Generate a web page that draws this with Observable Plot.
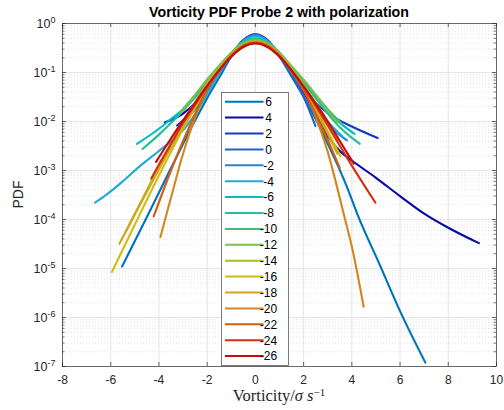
<!DOCTYPE html>
<html>
<head>
<meta charset="utf-8">
<script src="https://cdn.jsdelivr.net/npm/d3@7"></script>
<script src="https://cdn.jsdelivr.net/npm/@observablehq/plot@0.6"></script>
<style>
  html, body { margin: 0; padding: 0; background: #fff; }
  #chart { position: relative; width: 504px; height: 410px; }
  svg { display: block; }
</style>
</head>
<body>
<div id="chart"></div>
<script>
// ---------- DATA ([vorticity/sigma, PDF]) ----------
const pdf_p6 = [[-5.53,1.1e-5],[-4.5,1.12e-4],[-3.5,1.12e-3],[-2.5,1.05e-2],[-2.0,0.030],[-1.5,0.079],[-1.0,0.21],[-0.5,0.44],[0,0.575],[0.5,0.44],[1.0,0.21],[1.5,0.083],[2.0,0.032],[2.5,0.0112],[3.0,3.5e-3],[3.8,4.6e-4],[4.22,1.32e-4],[5.2,1.07e-5],[6.0,1.35e-6],[7.05,1.2e-7]];
const pdf_p4 = [[-3.76,9.5e-3],[-3.0,0.0145],[-2.5,0.024],[-2.0,0.048],[-1.5,0.105],[-1.0,0.23],[-0.5,0.46],[0,0.6],[0.5,0.46],[1.0,0.23],[1.5,0.1],[2.0,0.04],[2.5,0.014],[3.0,5.0e-3],[3.5,2.5e-3],[4.0,1.6e-3],[5.0,7.1e-4],[6.0,3.0e-4],[7.0,1.32e-4],[8.0,6.8e-5],[9.27,3.3e-5]];
const pdf_p2 = [[-3.25,8.3e-3],[-2.5,0.019],[-2.0,0.044],[-1.5,0.102],[-1.0,0.23],[-0.5,0.45],[0,0.59],[0.5,0.45],[1.0,0.23],[1.5,0.105],[2.0,0.047],[2.5,0.024],[3.25,0.0123],[4.0,7.9e-3],[5.07,4.6e-3]];
const pdf_0 = [[-3.0,0.01],[-2.5,0.0178],[-2.0,0.042],[-1.5,0.1],[-1.0,0.23],[-0.5,0.45],[0,0.6],[0.5,0.44],[1.0,0.22],[1.5,0.093],[2.0,0.032],[2.49,8.1e-3]];
const pdf_m2 = [[-3.3,6.3e-3],[-2.5,0.02],[-2.0,0.045],[-1.5,0.102],[-1.0,0.23],[-0.5,0.44],[0,0.575],[0.5,0.44],[1.0,0.224],[1.5,0.1],[2.0,0.044],[2.5,0.0186],[3.0,8.9e-3],[3.8,4.1e-3]];
const pdf_m4 = [[-6.65,2.2e-4],[-6.22,3.1e-4],[-5.5,6.0e-4],[-4.84,1.17e-3],[-4.0,2.5e-3],[-3.46,4.1e-3],[-3.0,6.6e-3],[-2.5,0.0141],[-2.0,0.036],[-1.5,0.095],[-1.0,0.23],[-0.5,0.44],[0,0.55],[0.5,0.44],[1.0,0.234],[1.5,0.107],[2.0,0.047],[2.5,0.021],[3.0,0.01],[3.6,5.0e-3]];
const pdf_m6 = [[-4.91,3.5e-3],[-4.0,7.1e-3],[-3.5,0.0112],[-3.0,0.0178],[-2.5,0.0316],[-2.0,0.063],[-1.5,0.126],[-1.0,0.25],[-0.5,0.42],[0,0.5],[0.5,0.42],[1.0,0.25],[1.5,0.126],[2.0,0.063],[2.5,0.0316],[3.0,0.0166],[3.5,9.5e-3],[4.11,5.6e-3]];
const pdf_m8 = [[-4.68,2.75e-3],[-4.0,5.4e-3],[-3.5,9.3e-3],[-3.0,0.0166],[-2.5,0.0316],[-2.0,0.066],[-1.5,0.132],[-1.0,0.25],[-0.5,0.41],[0,0.48],[0.5,0.41],[1.0,0.25],[1.5,0.126],[2.0,0.063],[2.5,0.030],[3.0,0.0145],[3.5,7.6e-3],[4.33,3.5e-3]];
const pdf_m10 = [[-3.0,0.0182],[-2.5,0.035],[-2.0,0.071],[-1.5,0.138],[-1.0,0.25],[-0.5,0.4],[0,0.47],[0.5,0.4],[1.0,0.25],[1.5,0.132],[2.0,0.068],[2.5,0.035],[3.0,0.0178],[3.6,8.9e-3]];
const pdf_m12 = [[-3.1,0.0151],[-2.5,0.035],[-2.0,0.072],[-1.5,0.138],[-1.0,0.25],[-0.5,0.39],[0,0.46],[0.5,0.39],[1.0,0.25],[1.5,0.135],[2.0,0.071],[2.5,0.035],[3.0,0.0166],[3.4,9.5e-3]];
const pdf_m14 = [[-5.39,5.5e-5],[-4.5,4.0e-4],[-4.0,1.2e-3],[-3.5,3.5e-3],[-3.0,0.01],[-2.5,0.025],[-2.0,0.06],[-1.5,0.126],[-1.0,0.24],[-0.5,0.37],[0,0.44],[0.5,0.37],[1.0,0.24],[1.5,0.12],[2.0,0.056],[2.5,0.024],[3.0,0.01],[3.4,4.5e-3]];
const pdf_m16 = [[-5.95,8.5e-6],[-5.0,7.9e-5],[-4.0,7.9e-4],[-3.5,2.4e-3],[-3.0,7.1e-3],[-2.5,0.019],[-2.0,0.05],[-1.5,0.112],[-1.0,0.224],[-0.5,0.355],[0,0.42],[0.5,0.355],[1.0,0.224],[1.5,0.11],[2.0,0.048],[2.5,0.019],[3.0,6.3e-3],[3.53,1.95e-3]];
const pdf_m18 = [[-5.64,3.2e-5],[-5.0,1.26e-4],[-4.0,1.05e-3],[-3.0,7.9e-3],[-2.5,0.02],[-2.0,0.05],[-1.5,0.11],[-1.0,0.22],[-0.5,0.35],[0,0.41],[0.5,0.35],[1.0,0.22],[1.5,0.107],[2.0,0.046],[2.5,0.0174],[3.0,5.6e-3],[3.4,2.2e-3]];
const pdf_m20 = [[-3.94,4.4e-5],[-3.5,2.8e-4],[-3.0,2.2e-3],[-2.5,0.012],[-2.0,0.045],[-1.5,0.112],[-1.0,0.23],[-0.5,0.36],[0,0.42],[0.5,0.36],[1.0,0.23],[1.5,0.11],[2.0,0.047],[2.5,0.0126],[3.0,2.4e-3],[3.66,1.32e-4],[4.0,2.8e-5],[4.49,1.66e-6]];
const pdf_m22 = [[-4.22,1.15e-4],[-3.5,1.0e-3],[-3.0,4.0e-3],[-2.5,0.0141],[-2.0,0.045],[-1.5,0.107],[-1.0,0.22],[-0.5,0.35],[0,0.41],[0.5,0.35],[1.0,0.22],[1.5,0.105],[2.0,0.043],[2.5,0.0141],[3.0,4.2e-3],[3.5,1.12e-3]];
const pdf_m24 = [[-4.32,6.8e-4],[-4.0,1.32e-3],[-3.5,3.5e-3],[-3.0,9.3e-3],[-2.5,0.0224],[-2.0,0.052],[-1.5,0.112],[-1.0,0.214],[-0.5,0.34],[0,0.4],[0.5,0.34],[1.0,0.214],[1.5,0.11],[2.0,0.05],[2.5,0.021],[3.0,8.3e-3],[3.5,3.2e-3],[4.0,1.26e-3],[4.98,2.2e-4]];
const pdf_m26 = [[-4.12,1.5e-3],[-3.5,4.5e-3],[-3.0,0.0105],[-2.5,0.024],[-2.0,0.054],[-1.5,0.112],[-1.0,0.21],[-0.5,0.33],[0,0.39],[0.5,0.33],[1.0,0.21],[1.5,0.11],[2.0,0.052],[2.5,0.0234],[3.0,0.01],[3.5,4.0e-3],[4.08,1.38e-3]];

const seriesLabels = ["6","4","2","0","-2","-4","-6","-8","-10","-12","-14","-16","-18","-20","-22","-24","-26"];
const seriesColors = ["#0072bd","#0808a8","#1838c4","#2262d0","#2286d0","#20aad6","#00bec6","#22bf9c","#44bb76","#7cbf4a","#aabf26","#d0bf10","#d2a61a","#d28620","#d25e10","#d23210","#c80c0c"];
const seriesData = [pdf_p6,pdf_p4,pdf_p2,pdf_0,pdf_m2,pdf_m4,pdf_m6,pdf_m8,pdf_m10,pdf_m12,pdf_m14,pdf_m16,pdf_m18,pdf_m20,pdf_m22,pdf_m24,pdf_m26];

const xTicks = [-8,-6,-4,-2,0,2,4,6,8,10];
const yMajor = [1e-7,1e-6,1e-5,1e-4,1e-3,1e-2,1e-1,1];
const yMinorMult = [2,3,4,5,6,7,8,9];

const titleText = "Vorticity PDF Probe 2 with polarization";
const yLabelText = "PDF";

// ---------- LAYOUT ----------
const W = 504, H = 410, mL = 62, mR = 8, mT = 23, mB = 44;
const pw = W - mL - mR, ph = H - mT - mB;
const yMinor = yMajor.slice(0, -1).flatMap(d => yMinorMult.map(m => m * d));
const axisColor = "#262626";
const font = "'Liberation Sans', Arial, Helvetica, sans-serif";

const lineMarks = seriesData.map((s, i) =>
  Plot.line(s, {x: d => d[0], y: d => d[1], stroke: seriesColors[i], strokeWidth: 2.1, curve: "monotone-x"})
);

const svg = Plot.plot({
  width: W, height: H,
  marginLeft: mL, marginRight: mR, marginTop: mT, marginBottom: mB,
  style: {fontFamily: font, fontSize: "12px", color: axisColor, background: "#fff"},
  x: {domain: [-8, 10], ticks: xTicks, tickFormat: d => String(d)},
  y: {type: "log", domain: [1e-7, 1], ticks: yMajor},
  marks: [
    Plot.ruleY(yMinor, {stroke: "#cfcfcf", strokeDasharray: "1,2", strokeWidth: 0.6}),
    Plot.ruleY(yMajor, {stroke: "#dedede", strokeWidth: 0.8}),
    Plot.ruleX(xTicks, {stroke: "#dedede", strokeWidth: 0.8}),
    ...lineMarks,
    Plot.frame({stroke: "#4a4a4a", strokeWidth: 0.8}),
    Plot.tickY(yMajor, {insetRight: pw - 4, stroke: axisColor, strokeWidth: 0.7}),
    Plot.tickY(yMajor, {insetLeft: pw - 4, stroke: axisColor, strokeWidth: 0.7}),
    Plot.tickY(yMinor, {insetRight: pw - 2.5, stroke: axisColor, strokeWidth: 0.6}),
    Plot.tickY(yMinor, {insetLeft: pw - 2.5, stroke: axisColor, strokeWidth: 0.6}),
    Plot.tickX(xTicks, {insetTop: ph - 4, stroke: axisColor, strokeWidth: 0.7}),
    Plot.tickX(xTicks, {insetBottom: ph - 4, stroke: axisColor, strokeWidth: 0.7}),
    Plot.axisX({ticks: xTicks, tickSize: 0, tickPadding: 9, tickFormat: d => String(d), label: null, fill: axisColor}),
    Plot.axisY({ticks: yMajor, tickSize: 0, tickPadding: 7, tickFormat: d => String(Math.round(Math.log10(d))), label: null, fill: axisColor})
  ]
});

// superscript exponents on y tick labels: 10^k
const NS = "http://www.w3.org/2000/svg";
svg.querySelectorAll('[aria-label="y-axis tick label"] text').forEach(t => {
  const e = t.textContent;
  t.textContent = "10";
  t.setAttribute("font-size", "12.5");
  const ts = document.createElementNS(NS, "tspan");
  ts.setAttribute("dy", "-0.55em");
  ts.setAttribute("font-size", "9");
  ts.textContent = e;
  t.appendChild(ts);
});

const root = d3.select(svg);
// title
root.append("text").attr("x", mL + pw / 2).attr("y", 16.5).attr("text-anchor", "middle")
  .attr("font-family", font).attr("font-size", 14.2).attr("font-weight", "bold").attr("fill", "#000")
  .text(titleText);
// y label
root.append("text").attr("transform", `translate(23,${mT + ph / 2}) rotate(-90)`).attr("text-anchor", "middle")
  .attr("font-family", font).attr("font-size", 14).attr("fill", axisColor).text(yLabelText);
// x label (LaTeX-style)
const xl = root.append("text").attr("x", mL + pw / 2).attr("y", 401).attr("text-anchor", "middle")
  .attr("font-family", "'Liberation Serif', 'DejaVu Serif', serif").attr("font-size", 16.5).attr("fill", axisColor);
xl.append("tspan").text("Vorticity/");
xl.append("tspan").attr("font-style", "italic").text("σ");
xl.append("tspan").text(" ");
xl.append("tspan").attr("font-style", "italic").text("s");
xl.append("tspan").attr("dy", "-0.5em").attr("font-size", 11).text("−1");

// legend
const lg = root.append("g");
const lgX = 221.5, lgY = 92.5, lgW = 67, lgH = 273, rowStep = 15.9, row0 = 9.2;
lg.append("rect").attr("x", lgX).attr("y", lgY).attr("width", lgW).attr("height", lgH)
  .attr("fill", "#fff").attr("stroke", "#5a5a5a").attr("stroke-width", 0.8);
seriesLabels.forEach((lab, i) => {
  const yy = lgY + row0 + i * rowStep;
  lg.append("line").attr("x1", lgX + 3.5).attr("x2", lgX + 42).attr("y1", yy).attr("y2", yy)
    .attr("stroke", seriesColors[i]).attr("stroke-width", 2);
  lg.append("text").attr("x", lgX + 47).attr("y", yy).attr("dy", "0.36em")
    .attr("font-family", font).attr("font-size", 12).attr("fill", "#000").text(lab);
});

document.getElementById("chart").appendChild(svg);
</script>
</body>
</html>
